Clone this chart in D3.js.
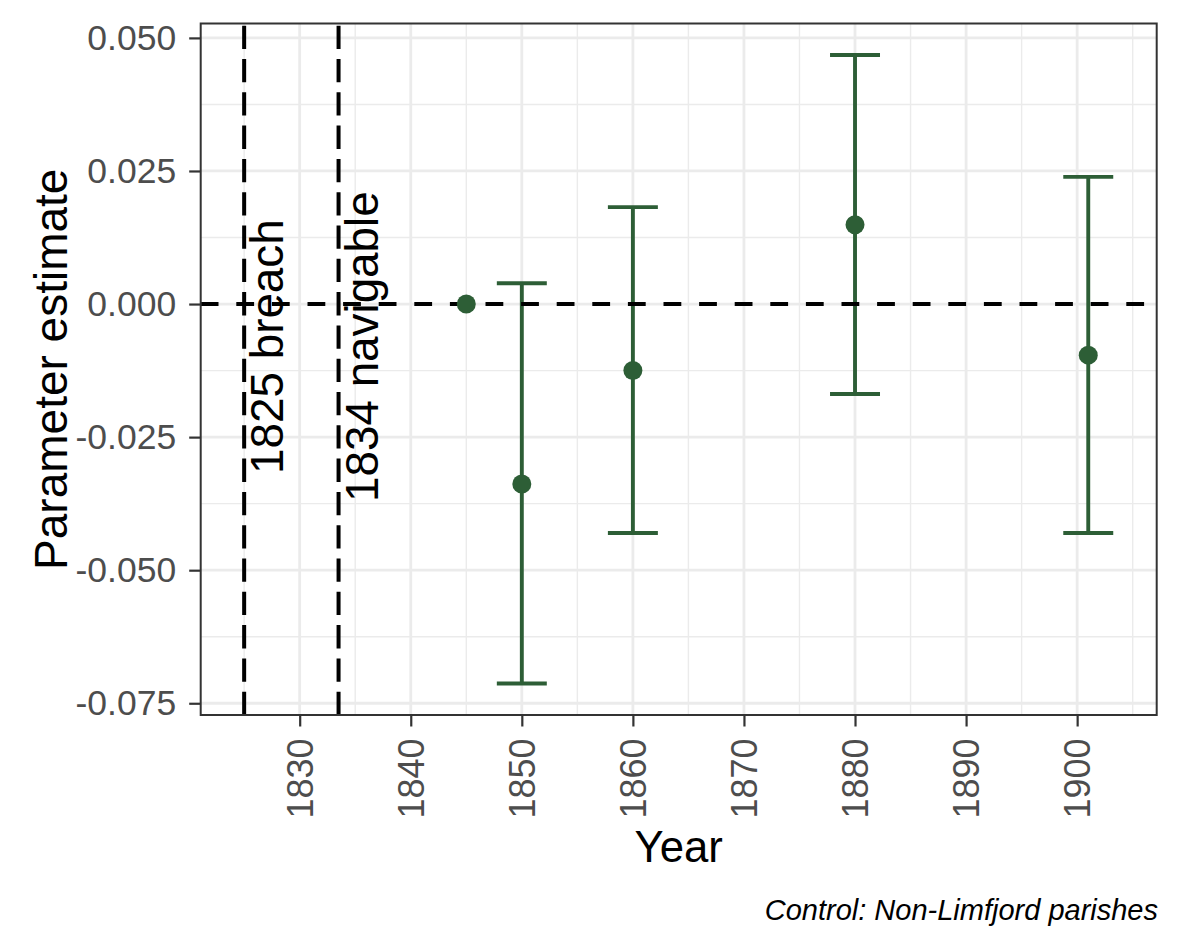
<!DOCTYPE html>
<html>
<head>
<meta charset="utf-8">
<script src="https://cdn.jsdelivr.net/npm/d3@7"></script>
<style>
  html, body { margin: 0; padding: 0; background: #ffffff; }
  svg { display: block; font-family: "Liberation Sans", Arial, Helvetica, sans-serif; }
</style>
</head>
<body>
<svg id="chart" width="1181" height="944"></svg>
<script>
// ---- data ----
const years     = [1845, 1850, 1860, 1880, 1901];
const estimates = [0, -0.0338, -0.0125, 0.0149, -0.0096];
const lowerCI   = [null, -0.0713, -0.0430, -0.0169, -0.0430];
const upperCI   = [null, 0.0039, 0.0182, 0.0468, 0.0239];

const eventYears  = [1825, 1833.5];
const eventLabels = ["1825 breach", "1834 navigable"];

const xTickValues = [1830, 1840, 1850, 1860, 1870, 1880, 1890, 1900];
const yTickValues = [-0.075, -0.050, -0.025, 0.000, 0.025, 0.050];
const yTickLabels = ["-0.075", "-0.050", "-0.025", "0.000", "0.025", "0.050"];

const xTitle = "Year";
const yTitle = "Parameter estimate";
const caption = "Control: Non-Limfjord parishes";

// ---- layout ----
const panel = { left: 200.7, right: 1156.7, top: 23.5, bottom: 715 };
const green = "#2d5e36";
const capWidthYears = 4.5;

const svg = d3.select("#chart");

// scales (ggplot-like 5% expansion)
const xMinData = d3.min([...eventYears, ...years.map(y => y - capWidthYears / 2)]);
const xMaxData = d3.max([...eventYears, ...years.map(y => y + capWidthYears / 2)]);
const xr = xMaxData - xMinData;
const x = d3.scaleLinear()
  .domain([xMinData - 0.05 * xr, xMaxData + 0.05 * xr])
  .range([panel.left, panel.right]);

const allY = [...estimates, ...lowerCI.filter(v => v !== null), ...upperCI.filter(v => v !== null), 0];
const yMinData = d3.min(allY), yMaxData = d3.max(allY);
const yr = yMaxData - yMinData;
const y = d3.scaleLinear()
  .domain([yMinData - 0.05 * yr, yMaxData + 0.05 * yr])
  .range([panel.bottom, panel.top]);

// panel background
svg.append("rect")
  .attr("x", panel.left).attr("y", panel.top)
  .attr("width", panel.right - panel.left).attr("height", panel.bottom - panel.top)
  .attr("fill", "#ffffff");

// grid
const gGrid = svg.append("g");
const xMinor = xTickValues.map(v => v - 5).concat([xTickValues[xTickValues.length - 1] + 5])
  .filter(v => v >= x.domain()[0] && v <= x.domain()[1]);
const yMinor = yTickValues.slice(0, -1).map((v, i) => (v + yTickValues[i + 1]) / 2)
  .concat([yTickValues[yTickValues.length - 1] + 0.0125, yTickValues[0] - 0.0125])
  .filter(v => v >= y.domain()[0] && v <= y.domain()[1]);

gGrid.selectAll("line.xminor").data(xMinor).join("line")
  .attr("x1", d => x(d)).attr("x2", d => x(d))
  .attr("y1", panel.top).attr("y2", panel.bottom)
  .attr("stroke", "#ebebeb").attr("stroke-width", 1.4);
gGrid.selectAll("line.yminor").data(yMinor).join("line")
  .attr("y1", d => y(d)).attr("y2", d => y(d))
  .attr("x1", panel.left).attr("x2", panel.right)
  .attr("stroke", "#ebebeb").attr("stroke-width", 1.4);
gGrid.selectAll("line.xmajor").data(xTickValues).join("line")
  .attr("x1", d => x(d)).attr("x2", d => x(d))
  .attr("y1", panel.top).attr("y2", panel.bottom)
  .attr("stroke", "#ebebeb").attr("stroke-width", 2.8);
gGrid.selectAll("line.ymajor").data(yTickValues).join("line")
  .attr("y1", d => y(d)).attr("y2", d => y(d))
  .attr("x1", panel.left).attr("x2", panel.right)
  .attr("stroke", "#ebebeb").attr("stroke-width", 2.8);

// vertical event lines (longdash, drawn from bottom)
svg.append("g").selectAll("line").data(eventYears).join("line")
  .attr("x1", d => x(d)).attr("x2", d => x(d))
  .attr("y1", panel.bottom).attr("y2", panel.top)
  .attr("stroke", "#000").attr("stroke-width", 4)
  .attr("stroke-dasharray", "23.3,10");

// data rows
const rows = years.map((yr_, i) => ({ year: yr_, est: estimates[i], lo: lowerCI[i], hi: upperCI[i] }));
const withCI = rows.filter(d => d.lo !== null && d.hi !== null);

// error bars
const gErr = svg.append("g").attr("stroke", green).attr("stroke-width", 3.9).attr("fill", "none");
gErr.selectAll("line.v").data(withCI).join("line")
  .attr("x1", d => x(d.year)).attr("x2", d => x(d.year))
  .attr("y1", d => y(d.lo)).attr("y2", d => y(d.hi));
gErr.selectAll("line.top").data(withCI).join("line")
  .attr("x1", d => x(d.year - capWidthYears / 2)).attr("x2", d => x(d.year + capWidthYears / 2))
  .attr("y1", d => y(d.hi)).attr("y2", d => y(d.hi));
gErr.selectAll("line.bot").data(withCI).join("line")
  .attr("x1", d => x(d.year - capWidthYears / 2)).attr("x2", d => x(d.year + capWidthYears / 2))
  .attr("y1", d => y(d.lo)).attr("y2", d => y(d.lo));

// horizontal zero line
svg.append("line")
  .attr("x1", panel.left).attr("x2", panel.right)
  .attr("y1", y(0)).attr("y2", y(0))
  .attr("stroke", "#000").attr("stroke-width", 4)
  .attr("stroke-dasharray", "17.8,17.8");

// points
svg.append("g").selectAll("circle").data(rows).join("circle")
  .attr("cx", d => x(d.year)).attr("cy", d => y(d.est))
  .attr("r", 9.5).attr("fill", green);

// event labels
svg.append("g").selectAll("text").data(eventYears).join("text")
  .attr("transform", d => `translate(${x(d) + 39},${y(-0.008)}) rotate(-90)`)
  .attr("text-anchor", "middle")
  .attr("font-size", 45.8)
  .attr("fill", "#000")
  .text((d, i) => eventLabels[i]);

// panel border
svg.append("rect")
  .attr("x", panel.left).attr("y", panel.top)
  .attr("width", panel.right - panel.left).attr("height", panel.bottom - panel.top)
  .attr("fill", "none").attr("stroke", "#333333").attr("stroke-width", 2);

// axes
const xAxis = d3.axisBottom(x).tickValues(xTickValues).tickSize(11.5).tickPadding(12).tickFormat(d3.format("d"));
const gx = svg.append("g").attr("transform", `translate(0,${panel.bottom})`).call(xAxis);
gx.select(".domain").remove();
gx.selectAll(".tick line").attr("stroke", "#333333").attr("stroke-width", 2.2);
gx.selectAll(".tick text")
  .attr("font-size", 36).attr("fill", "#4d4d4d")
  .attr("font-family", "'Liberation Sans', Arial, sans-serif")
  .attr("transform", "rotate(-90)")
  .attr("text-anchor", "end")
  .attr("x", -23.5).attr("y", 0).attr("dy", "0.35em");

const yAxis = d3.axisLeft(y).tickValues(yTickValues).tickSize(11.5).tickPadding(13)
  .tickFormat((d, i) => yTickLabels[i]);
const gy = svg.append("g").attr("transform", `translate(${panel.left},0)`).call(yAxis);
gy.select(".domain").remove();
gy.selectAll(".tick line").attr("stroke", "#333333").attr("stroke-width", 2.2);
gy.selectAll(".tick text")
  .attr("font-size", 35.5).attr("fill", "#4d4d4d")
  .attr("font-family", "'Liberation Sans', Arial, sans-serif");

// titles
svg.append("text")
  .attr("x", (panel.left + panel.right) / 2).attr("y", 862)
  .attr("text-anchor", "middle").attr("font-size", 43.7).attr("fill", "#000")
  .text(xTitle);
svg.append("text")
  .attr("transform", `translate(66.5,${(panel.top + panel.bottom) / 2}) rotate(-90)`)
  .attr("text-anchor", "middle").attr("font-size", 46).attr("fill", "#000")
  .text(yTitle);

// caption
svg.append("text")
  .attr("x", 1158).attr("y", 919.5)
  .attr("text-anchor", "end").attr("font-size", 29).attr("font-style", "italic").attr("fill", "#000")
  .text(caption);
</script>
</body>
</html>
